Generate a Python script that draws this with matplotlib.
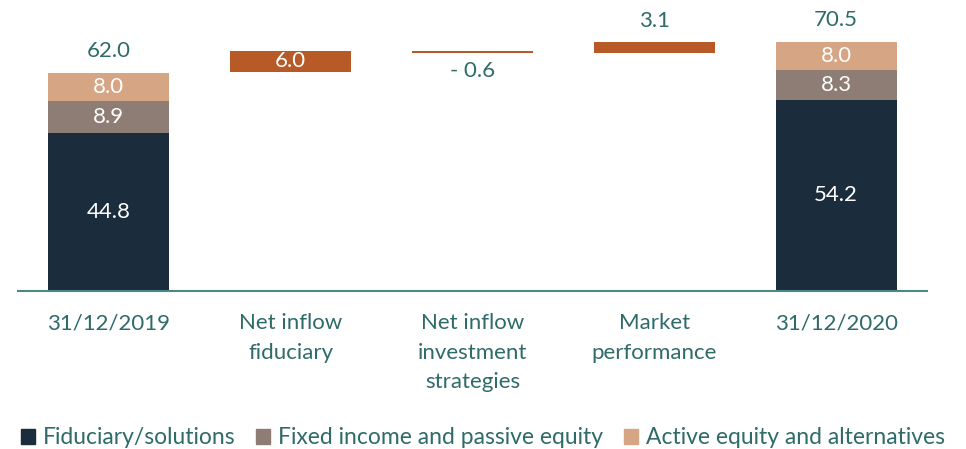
import matplotlib
matplotlib.use("Agg")
import matplotlib.pyplot as plt
from matplotlib.patches import Patch

# data (EUR bn)
categories = ["31/12/2019", "Net inflow\nfiduciary", "Net inflow\ninvestment\nstrategies",
              "Market\nperformance", "31/12/2020"]
segments = ["Fiduciary/solutions", "Fixed income and passive equity", "Active equity and alternatives"]
start_values = [44.8, 8.9, 8.0]
end_values = [54.2, 8.3, 8.0]
start_total = 62.0
end_total = 70.5
changes = [6.0, -0.6, 3.1]
change_labels = ["6.0", "- 0.6", "3.1"]

seg_colors = ["#1b2d3d", "#8d7d75", "#d6a684"]
change_color = "#b85a27"
text_color = "#2e6b69"
axis_color = "#4a8785"

plt.rcParams["font.family"] = ["Lato", "DejaVu Sans"]

fig = plt.figure(figsize=(9.66, 4.49), dpi=100)
ax = fig.add_axes([18 / 966, 158 / 449, 909 / 966, 291 / 449])
width = 0.665
fs = 16


def stacked(x, vals, total):
    bottom = 0
    for v, c in zip(vals, seg_colors):
        ax.bar(x, v, width, bottom=bottom, color=c)
        ax.text(x, bottom + v / 2, f"{v:.1f}", ha="center", va="center",
                color="white", fontsize=fs)
        bottom += v
    ax.text(x, bottom + 3.3, f"{total:.1f}", ha="center", va="bottom",
            color=text_color, fontsize=fs)


stacked(0, start_values, start_total)
level = start_total
for i, (ch, lab) in enumerate(zip(changes, change_labels)):
    x = i + 1
    lo = min(level, level + ch)
    ax.bar(x, abs(ch), width, bottom=lo, color=change_color)
    if ch >= 4:
        ax.text(x, lo + abs(ch) / 2, lab, ha="center", va="center",
                color="white", fontsize=fs)
    elif ch < 0:
        ax.text(x, lo - 2.2, lab, ha="center", va="top",
                color=text_color, fontsize=fs)
    else:
        ax.text(x, lo + abs(ch) + 3.0, lab, ha="center", va="bottom",
                color=text_color, fontsize=fs)
    level += ch
stacked(4, end_values, end_total)

ax.set_xlim(-0.5, 4.5)
ax.set_ylim(0, 82.4)
ax.set_xticks(range(len(categories)))
ax.set_xticklabels(categories, fontsize=fs, color=text_color, linespacing=1.6, va="top")
ax.tick_params(axis="x", length=0, pad=16)
ax.set_yticks([])
for s in ["top", "right", "left"]:
    ax.spines[s].set_visible(False)
ax.spines["bottom"].set_color(axis_color)
ax.spines["bottom"].set_linewidth(1.5)

handles = [Patch(color=c, label=s) for c, s in zip(seg_colors, segments)]
fig.legend(handles=handles, loc="center", bbox_to_anchor=(0.5, 11 / 449), ncol=3,
           frameon=False, fontsize=16.5, labelcolor=text_color, handlelength=0.6,
           handleheight=0.6, handletextpad=0.35, columnspacing=0.9)

fig.savefig("out.png", dpi=100)
